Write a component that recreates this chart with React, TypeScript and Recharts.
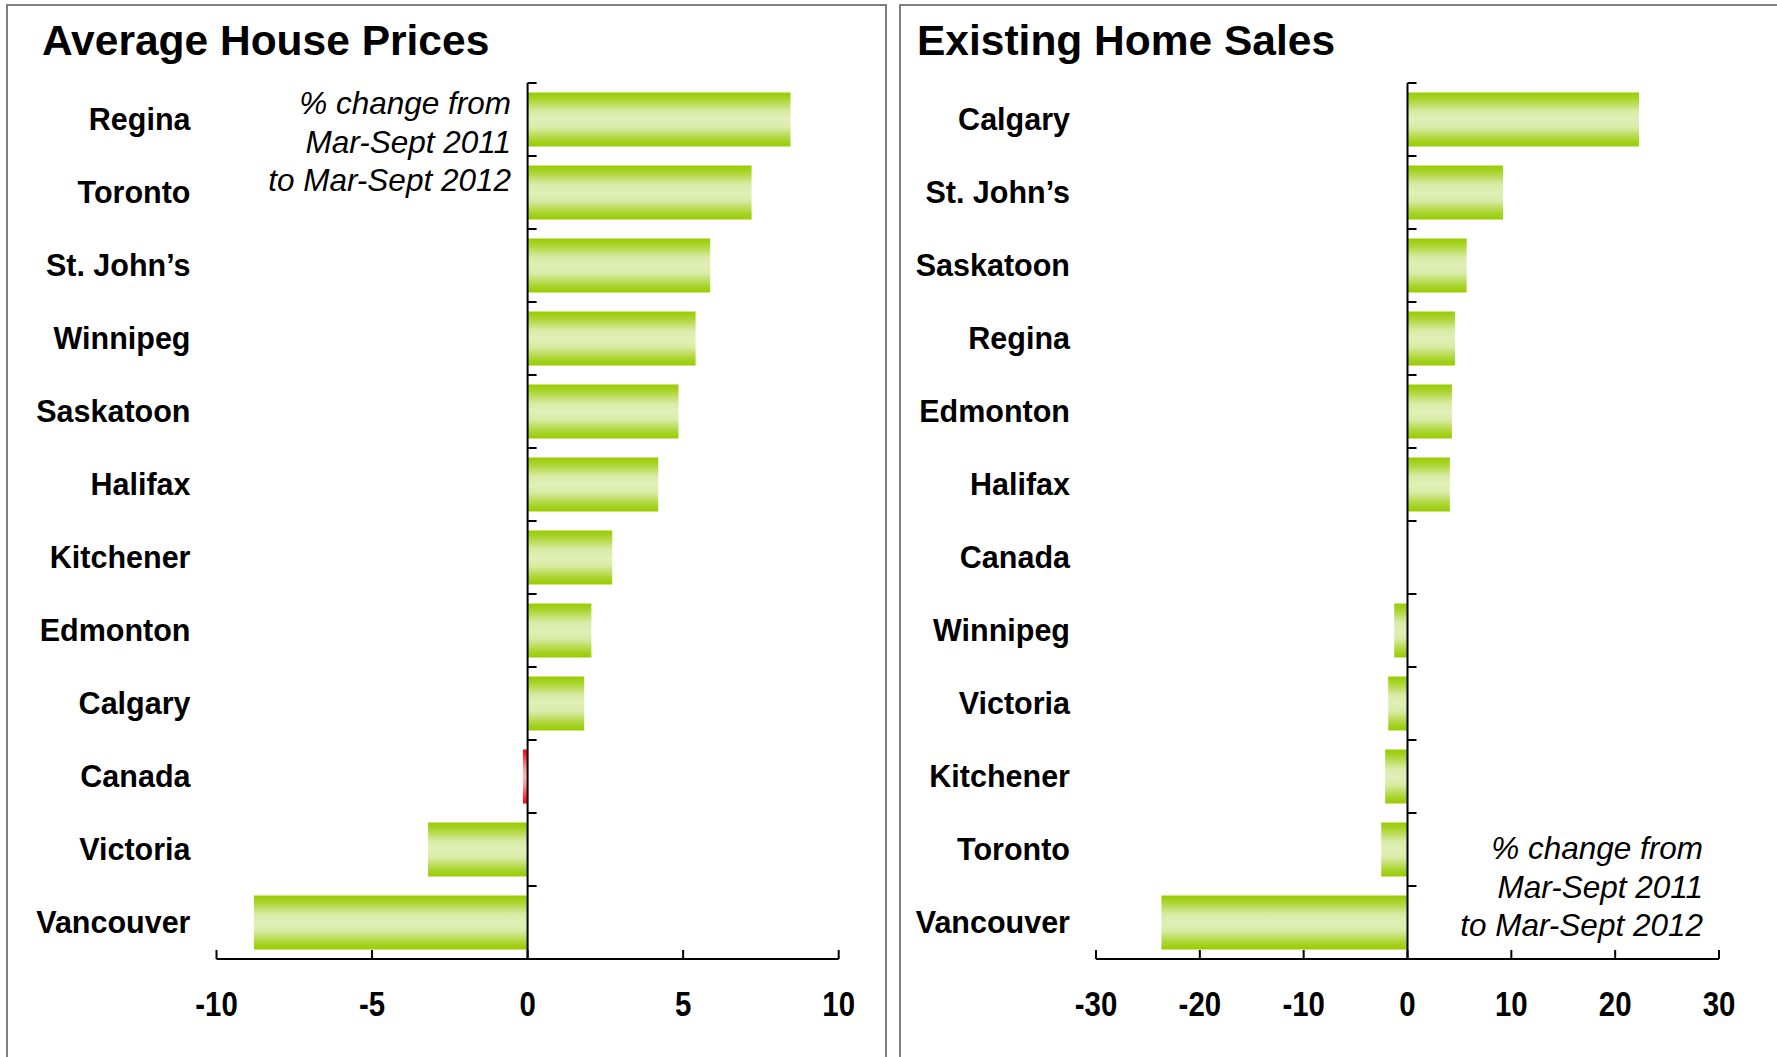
import React from 'react'
import { Bar, BarChart, Cell, ReferenceLine, XAxis, YAxis } from 'recharts'

// left panel: average house prices, % change
const priceCities = ['Regina', 'Toronto', 'St. John’s', 'Winnipeg', 'Saskatoon', 'Halifax', 'Kitchener', 'Edmonton', 'Calgary', 'Canada', 'Victoria', 'Vancouver']
const priceChange = [8.45, 7.2, 5.87, 5.4, 4.85, 4.2, 2.72, 2.05, 1.82, -0.15, -3.2, -8.8]
const priceTicks = [-10, -5, 0, 5, 10]

// right panel: existing home sales, % change
const salesCities = ['Calgary', 'St. John’s', 'Saskatoon', 'Regina', 'Edmonton', 'Halifax', 'Canada', 'Winnipeg', 'Victoria', 'Kitchener', 'Toronto', 'Vancouver']
const salesChange = [22.3, 9.2, 5.7, 4.57, 4.28, 4.08, 0, -1.28, -1.86, -2.15, -2.53, -23.7]
const salesTicks = [-30, -20, -10, 0, 10, 20, 30]

const noteLines = ['% change from', 'Mar-Sept 2011', 'to Mar-Sept 2012']

const SANS = "'Liberation Sans', Arial, sans-serif"

const sepTick = (p: any) => (
  <line x1={p.x1} y1={p.y1} x2={p.x1 + 9} y2={p.y1} stroke='#000' strokeWidth={2} />
)

// narrow bold numbers under the value axis
const valueTick = (p: any) => (
  <g transform={`translate(${p.x},${p.y})`}>
    <text
      transform='scale(0.84,1)'
      x={0}
      y={22}
      textAnchor='middle'
      fill='#000'
      fontSize={35}
      fontWeight={700}
      fontFamily={SANS}
    >
      {p.payload.value}
    </text>
  </g>
)

interface PanelProps {
  id: string
  cities: string[]
  values: number[]
  ticks: number[]
  width: number
  axisWidth: number
  right: number
  highlight?: string
}

const Panel: React.FC<PanelProps> = ({ id, cities, values, ticks, width, axisWidth, right, highlight }) => {
  const data = cities.map((city, i) => ({ city, value: values[i] }))
  return (
    <BarChart
      width={width}
      height={1057}
      data={data}
      layout='vertical'
      margin={{ top: 83, right, bottom: 38, left: 0 }}
      barCategoryGap='13%'
    >
      <defs>
        <linearGradient id={`${id}-green`} x1='0' y1='0' x2='0' y2='1'>
          <stop offset='0' stopColor='#99cc00' />
          <stop offset='0.12' stopColor='#a9d42c' />
          <stop offset='0.35' stopColor='#d9eba6' />
          <stop offset='0.5' stopColor='#e1efb6' />
          <stop offset='0.65' stopColor='#d9eba6' />
          <stop offset='0.88' stopColor='#a9d42c' />
          <stop offset='1' stopColor='#99cc00' />
        </linearGradient>
        <linearGradient id={`${id}-red`} x1='0' y1='0' x2='0' y2='1'>
          <stop offset='0' stopColor='#ff0000' />
          <stop offset='0.35' stopColor='#ff9a9a' />
          <stop offset='0.5' stopColor='#ffb4b4' />
          <stop offset='0.65' stopColor='#ff9a9a' />
          <stop offset='1' stopColor='#ff0000' />
        </linearGradient>
      </defs>
      <XAxis
        type='number'
        domain={[ticks[0], ticks[ticks.length - 1]]}
        ticks={ticks}
        interval={0}
        height={60}
        axisLine={{ stroke: '#000', strokeWidth: 2 }}
        tickLine={{ stroke: '#000', strokeWidth: 2 }}
        tickSize={-9}
        tickMargin={44}
        tick={valueTick}
      />
      <YAxis
        type='category'
        dataKey='city'
        width={axisWidth}
        interval={0}
        axisLine={false}
        tickLine={false}
        tickSize={0}
        tickMargin={26}
        tick={{ fill: '#000', fontSize: 30.5, fontWeight: 700, fontFamily: SANS }}
      />
      <Bar dataKey='value' isAnimationActive={false}>
        {data.map((d) => (
          <Cell key={d.city} fill={d.city === highlight ? `url(#${id}-red)` : `url(#${id}-green)`} />
        ))}
      </Bar>
      <ReferenceLine x={0} stroke='#000' strokeWidth={2} />
      {cities.map((c) => (
        <ReferenceLine
          key={c}
          segment={[{ x: 0, y: c }, { x: 0, y: c }]}
          position='start'
          shape={sepTick}
        />
      ))}
    </BarChart>
  )
}

const titleStyle: React.CSSProperties = {
  position: 'absolute',
  top: 20,
  fontSize: 42.5,
  lineHeight: 1,
  fontWeight: 700,
  whiteSpace: 'nowrap',
}

const noteStyle: React.CSSProperties = {
  position: 'absolute',
  left: 0,
  fontSize: 31.5,
  lineHeight: '38.5px',
  fontStyle: 'italic',
  textAlign: 'right',
  whiteSpace: 'nowrap',
}

export default function App() {
  return (
    <div
      style={{
        position: 'absolute',
        left: 0,
        top: 0,
        width: 1777,
        height: 1057,
        overflow: 'hidden',
        background: '#fff',
        fontFamily: SANS,
        color: '#000',
      }}
    >
      <div style={{ position: 'absolute', left: 6, top: 4, width: 881, height: 1200, border: '2px solid #808080', boxSizing: 'border-box' }} />
      <div style={{ position: 'absolute', left: 899, top: 4, width: 1000, height: 1200, border: '2px solid #808080', boxSizing: 'border-box' }} />

      <div style={{ position: 'absolute', left: 0, top: 0 }}>
        <Panel id='price' cities={priceCities} values={priceChange} ticks={priceTicks} width={888} axisWidth={216.5} right={49.3} highlight='Canada' />
      </div>
      <div style={{ position: 'absolute', left: 888, top: 0 }}>
        <Panel id='sales' cities={salesCities} values={salesChange} ticks={salesTicks} width={889} axisWidth={208} right={58} />
      </div>

      <div style={{ ...titleStyle, left: 42 }}>Average House Prices</div>
      <div style={{ ...titleStyle, left: 917 }}>Existing Home Sales</div>

      <div style={{ ...noteStyle, top: 84, width: 511 }}>
        {noteLines.map((l) => <div key={l}>{l}</div>)}
      </div>
      <div style={{ ...noteStyle, top: 829, width: 1703 }}>
        {noteLines.map((l) => <div key={l}>{l}</div>)}
      </div>
    </div>
  )
}
